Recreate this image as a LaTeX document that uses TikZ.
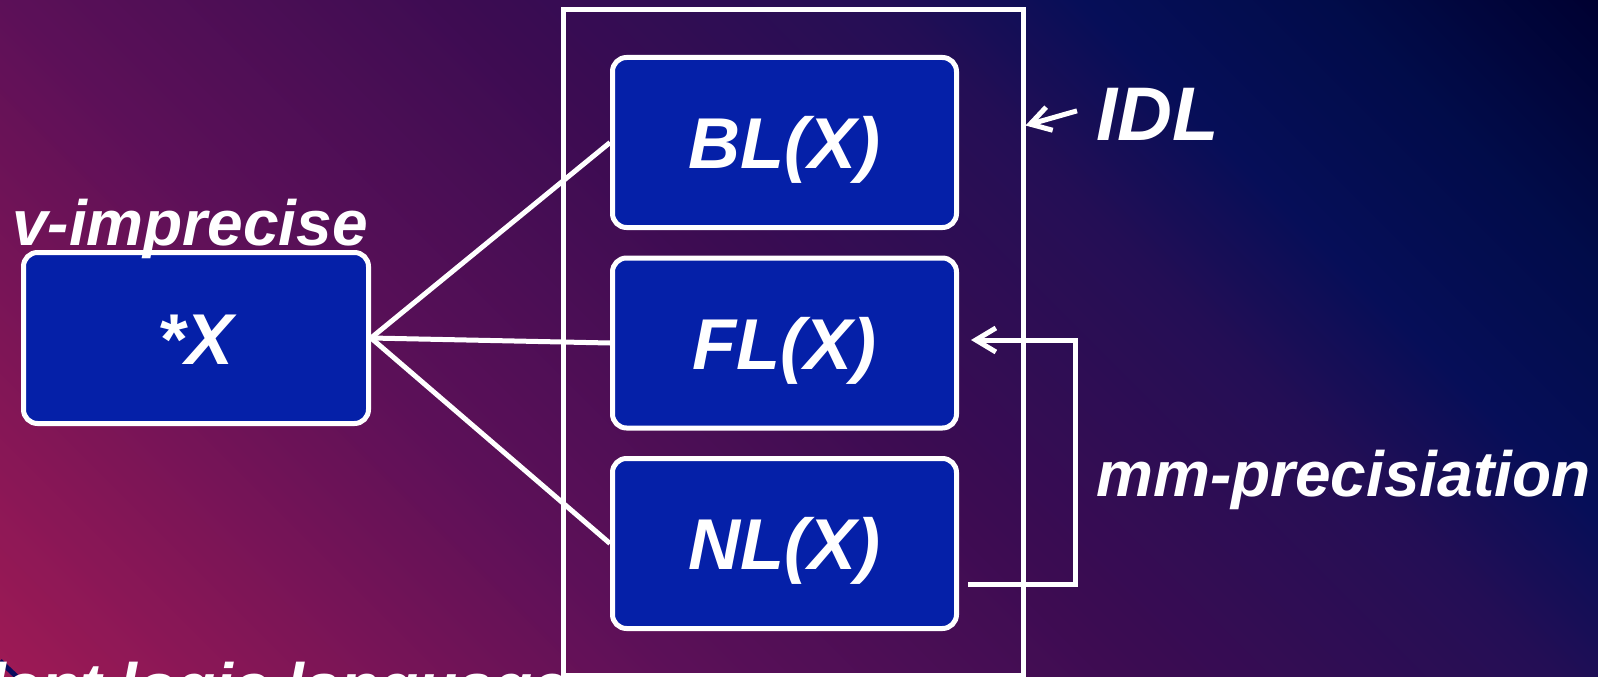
\documentclass[tikz,border=0pt]{standalone}
\usepackage{fontspec}
\setmainfont{Liberation Sans}
\usetikzlibrary{arrows.meta}

\definecolor{bgA}{HTML}{9E1A55}
\definecolor{bgB}{HTML}{5C1058}
\definecolor{bgC}{HTML}{3C0C52}
\definecolor{bgD}{HTML}{240E55}
\definecolor{bgE}{HTML}{060E58}
\definecolor{bgF}{HTML}{010C4A}
\definecolor{bgG}{HTML}{000030}
\definecolor{boxblue}{HTML}{0520A8}
\definecolor{fragblue}{HTML}{0A0A5E}

\newcommand\boxfont{\bfseries\itshape\fontsize{72}{80}\selectfont}
\newcommand\lblfont{\bfseries\itshape\fontsize{64}{72}\selectfont}
\newcommand\idlfont{\bfseries\itshape\fontsize{76}{84}\selectfont}

\tikzset{
  box/.style={draw=white, fill=boxblue, line width=5pt, rounded corners=14pt,
    minimum width=344pt, minimum height=170pt, inner sep=0pt,
    text=white, font=\boxfont, text height=52pt, text depth=0pt},
  lbl/.style={text=white, inner sep=0pt, font=\lblfont},
  link/.style={draw=white, line width=5pt},
  arr/.style={draw=white, line width=5pt,
    -{Straight Barb[length=20pt,width=24pt]}}
}

\begin{document}
\begin{tikzpicture}[x=1pt, y=-1pt]
  \useasboundingbox (0,0) rectangle (1598,677);
  \clip (0,0) rectangle (1598,677);

  % diagonal background, strips of constant x+(677-y)
  \foreach \sa/\sb/\ca/\cb in {0/677/bgA/bgB, 677/1137/bgB/bgC,
      1137/1550/bgC/bgD, 1550/1760/bgD/bgE, 1760/2000/bgE/bgF,
      2000/2280/bgF/bgG}{
    \pgfmathtruncatemacro\nk{(\sb-\sa)/5}
    \foreach \k in {0,...,\nk}{
      \pgfmathsetmacro\sv{\sa+5*\k}
      \pgfmathtruncatemacro\pc{min(100,\k/((\sb-\sa)/500))}
      \fill[\cb!\pc!\ca] ({\sv-777},-100) -- ({\sv+123},800)
        -- ({\sv+131},800) -- ({\sv-769},-100) -- cycle;
    }
  }

  % bits running off the lower edge
  \draw[line width=5pt, fragblue] (0,661) -- (17,677);
  \begin{scope}
    \clip (0,0) rectangle (561,677);
    \node[lbl, anchor=base west] (lltxt) at (-12,708) {lent logic language};
  \end{scope}

  % IDL frame
  \node[draw=white, line width=5pt, minimum width=460pt, minimum height=665pt,
    inner sep=0pt] (idl) at (793,342.5) {};

  \node[box, minimum width=345pt, minimum height=171pt] (sx) at (196,338) {*X};
  \node[box] (bl) at (784.5,142.5) {BL(X)};
  \node[box] (fl) at (784.5,343) {FL(X)};
  \node[box] (nl) at (784.5,543.5) {NL(X)};

  \draw[link] (sx.east) -- (bl.west);
  \draw[link] (sx.east) -- (fl.west);
  \draw[link] (sx.east) -- (nl.west);

  \node[lbl, anchor=base west] (vtxt) at (12,245) {v-imprecise};
  \node[lbl, font=\idlfont, anchor=base west] (idltxt) at (1096,140) {IDL};
  \node[lbl, anchor=base west] (mmtxt) at (1096,496) {mm-precisiation};

  \draw[arr] ([xshift=-19pt,yshift=3pt]idltxt.west) -- ([yshift=-118pt]idl.north east);
  \draw[arr] ([xshift=9pt,yshift=-40.5pt]nl.east) -- ++(107,0)
    |- ([xshift=12pt,yshift=3pt]fl.east);
\end{tikzpicture}
\end{document}
